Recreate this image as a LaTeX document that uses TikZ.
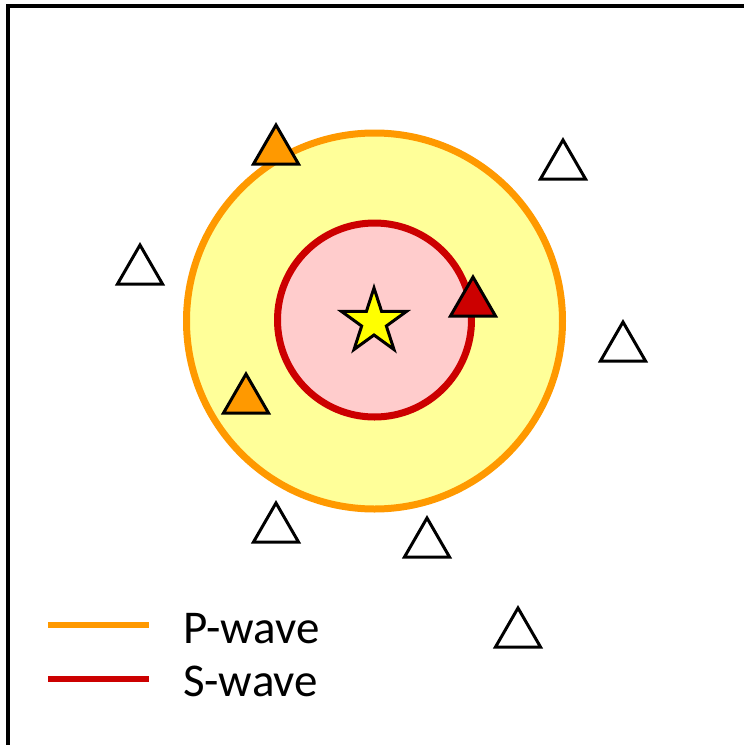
\documentclass[tikz,border=0pt]{standalone}
\usepackage{fontspec}
\setmainfont{Carlito}
\usetikzlibrary{shapes.geometric}
\definecolor{pcol}{HTML}{FF9900}
\definecolor{scol}{HTML}{CC0000}
\definecolor{pfill}{HTML}{FFFF99}
\definecolor{sfill}{HTML}{FFCCCC}
\definecolor{starcol}{HTML}{FFFF00}
\tikzset{
    station/.style={regular polygon, regular polygon sides=3, minimum size=52pt,
        inner sep=0pt, draw=black, line width=3pt, fill=white},
    front/.style={circle, inner sep=0pt, line width=7pt},
    legtext/.style={anchor=base west, inner sep=0pt, font=\fontsize{47}{56}\selectfont}
}
\begin{document}
\begin{tikzpicture}[x=1pt, y=-1pt]
                \useasboundingbox (0,0) rectangle (744,745);
                \draw[line width=4pt] (8,6) rectangle (748,747);
                \node[front, draw=pcol, fill=pfill, minimum size=376pt] (pfront) at (374.5,321) {};
                \node[front, draw=scol, fill=sfill, minimum size=194pt] (sfront) at (374.5,320) {};
                \node[star, star points=5, star point ratio=2.618, minimum size=68pt,
                    inner sep=0pt, draw=black, line width=3pt, fill=starcol] (epi) at (374,322) {};
                \node[station, fill=pcol] (sta1) at (276,151) {};
                \node[station, fill=pcol] (sta2) at (246,400) {};
                \node[station, fill=scol] (sta3) at (473,303) {};
                \foreach \name/\pos in {sta4/{(563,166)}, sta5/{(140,271)}, sta6/{(623,348)},
                    sta7/{(276,529)}, sta8/{(427,544)}, sta9/{(518,634)}}
                    \node[station] (\name) at \pos {};
                \coordinate (pleft) at (48,625);
                \coordinate (pright) at (149,625);
                \coordinate (sleft) at (48,679);
                \coordinate (sright) at (149,679);
                \draw[pcol, line width=6pt] (pleft) -- (pright);
                \draw[scol, line width=6pt] (sleft) -- (sright);
                \node[legtext] (plabel) at (183,643) {P-wave};
                \node[legtext] (slabel) at (183,696) {S-wave};
            \end{tikzpicture}
\end{document}
